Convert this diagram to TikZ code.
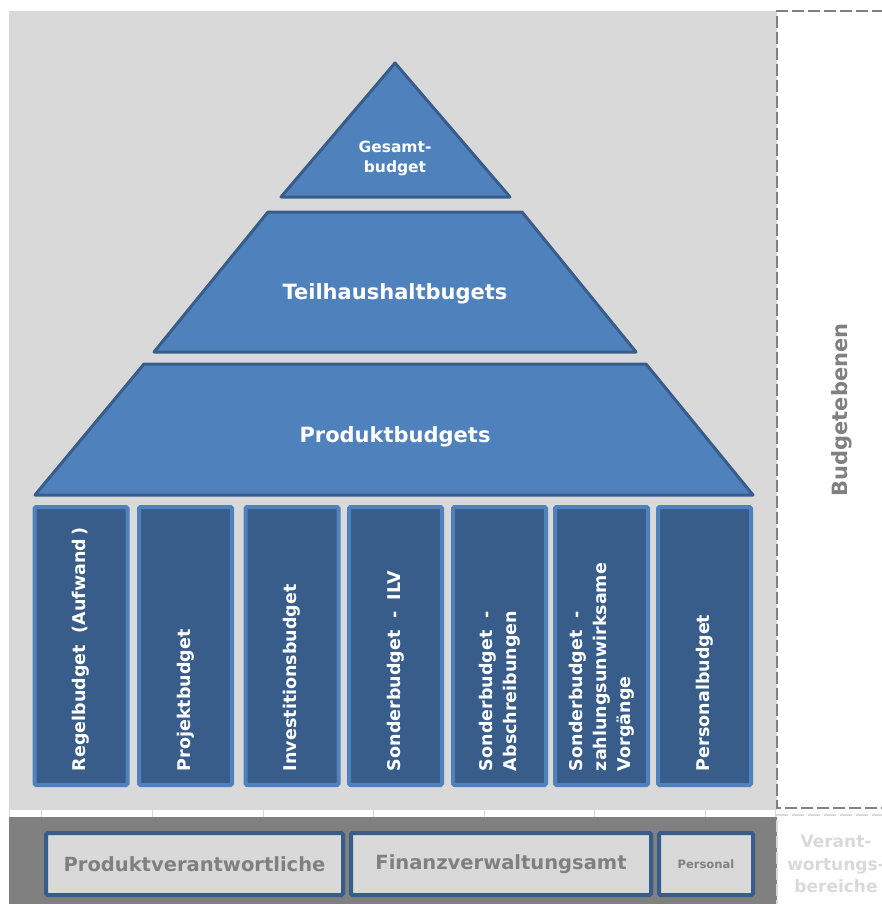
\documentclass[tikz,border=0pt]{standalone}
\usepackage{fontspec}
\setmainfont{DejaVu Sans}
\usetikzlibrary{positioning}

\definecolor{panelLight}{HTML}{D9D9D9}
\definecolor{panelDark}{HTML}{808080}
\definecolor{levelBlue}{HTML}{4F81BD}
\definecolor{edgeBlue}{HTML}{385D8A}

\tikzset{
  level/.style={fill=levelBlue, draw=edgeBlue, line width=3pt, line join=round},
  leveltext/.style={text=white, align=center, font=\bfseries\fontsize{21}{25}\selectfont},
  budgetcol/.style={rotate=90, fill=edgeBlue, draw=levelBlue, line width=4pt, rounded corners=1.5pt,
    minimum width=278pt, minimum height=93pt, text width=250pt, align=left,
    text=white, font=\bfseries\fontsize{17.5}{24}\selectfont},
  areabox/.style={fill=panelLight, draw=edgeBlue, line width=4pt, rounded corners=1.5pt,
    minimum height=62pt, inner sep=0pt, text=panelDark, font=\bfseries\fontsize{19.5}{23}\selectfont},
  sidedash/.style={dash pattern=on 12pt off 4pt, line width=2.7pt}
}

\begin{document}
\begin{tikzpicture}[x=1pt,y=-1pt]
        \useasboundingbox (0,0) rectangle (881,904);
        % background panels
        \fill[panelLight] (9,11) rectangle (777,810);
        \fill[panelDark] (9,817) rectangle (777,904);
        \foreach \tx in {9,41,152,263,373,484,594,705,775}
          \draw[panelLight, line width=1pt] (\tx,810) -- (\tx,817);
        \draw[sidedash, panelDark] (884,11) -- (777,11) -- (777,808) -- (884,808);
        \draw[sidedash, panelLight] (884,815) -- (777,815) -- (777,907);

        % pyramid
        \draw[level] (395,63) -- (510,197) -- (281,197) -- cycle;
        \draw[level] (268,212) -- (522,212) -- (636,352) -- (154,352) -- cycle;
        \draw[level] (144,364) -- (646,364) -- (753,495) -- (35,495) -- cycle;
        \node[leveltext, font=\bfseries\fontsize{15.5}{20}\selectfont] (gesamt) at (395,158) {Gesamt-\\budget};
        \node[leveltext] (teil) at (395,294) {Teilhaushaltbugets};
        \node[leveltext] (produkt) at (395,437) {Produktbudgets};

        % budget columns
        \node[budgetcol] (regel) at (81,646) {Regelbudget\ \ (Aufwand\,)};
        \node[budgetcol] (projekt) at (185.5,646) {Projektbudget};
        \node[budgetcol] (invest) at (292,646) {Investitionsbudget};
        \node[budgetcol] (ilv) at (395.5,646) {Sonderbudget\ \ -\ \ ILV};
        \node[budgetcol] (abschr) at (499.5,646) {Sonderbudget\ \ -\\Abschreibungen};
        \node[budgetcol] (zahlung) at (601.5,646) {Sonderbudget\ \ -\\zahlungsunwirksame\\Vorgänge};
        \node[budgetcol] (personalb) at (704.5,646) {Personalbudget};

        % areas of responsibility
        \node[areabox, minimum width=297pt] (prodverant) at (194.5,864) {Produktverantwortliche};
        \node[areabox, minimum width=300pt, right=4pt of prodverant] (finanz) {Finanzverwaltungsamt};
        \node[areabox, minimum width=94pt, right=4pt of finanz, font=\bfseries\fontsize{11.5}{14}\selectfont] (personal) {Personal};

        % side labels
        \node[rotate=90, text=panelDark, font=\bfseries\fontsize{21}{25}\selectfont] (ebenen) at (842,410) {Budgetebenen};
        \node[align=center, text=panelLight, font=\bfseries\fontsize{17}{22.5}\selectfont] (verant) at (836,864) {Verant-\\wortungs-\\bereiche};
\end{tikzpicture}
\end{document}
